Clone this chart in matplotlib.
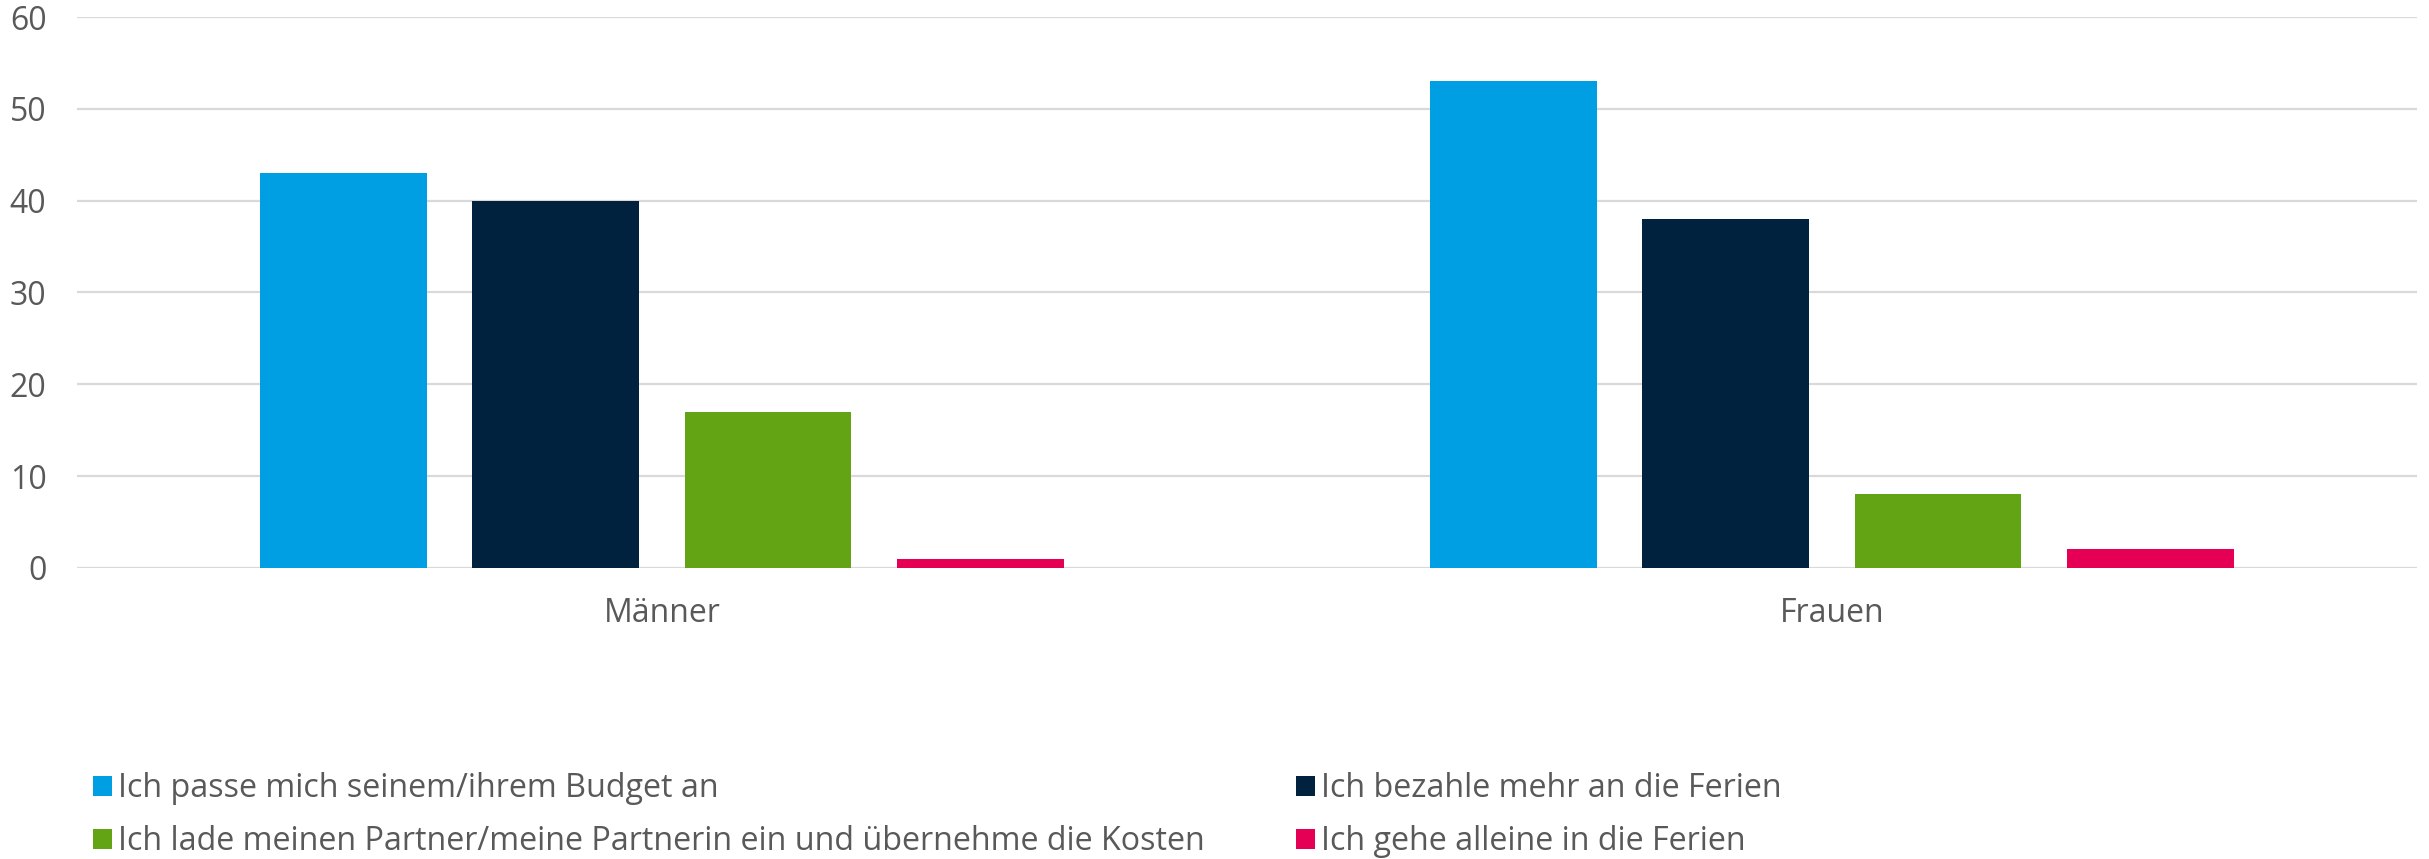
import numpy as np
import matplotlib.pyplot as plt
from matplotlib.patches import Patch

plt.rcParams['font.family'] = ['Open Sans', 'DejaVu Sans']

groups = ['Männer', 'Frauen']
series = [
    'Ich passe mich seinem/ihrem Budget an',
    'Ich bezahle mehr an die Ferien',
    'Ich lade meinen Partner/meine Partnerin ein und übernehme die Kosten',
    'Ich gehe alleine in die Ferien',
]
values = [
    [43, 53],
    [40, 38],
    [17, 8],
    [1, 2],
]
colors = ['#009FE3', '#00223F', '#62A413', '#E50055']
yticks = [0, 10, 20, 30, 40, 50, 60]

text_col = '#595959'
grid_col = '#D9D9D9'

fig = plt.figure(figsize=(24.29, 8.59), dpi=100)
ax = fig.add_axes([0.0317, 0.339, 0.9633, 0.641])

x = np.arange(len(groups))
step = 0.1815
width = 0.1425
for i, (vals, c) in enumerate(zip(values, colors)):
    ax.bar(x + (i - 1.5) * step, vals, width=width, color=c, zorder=3)

ax.set_xlim(-0.5, 1.5)
ax.set_ylim(0, 60)
ax.set_yticks(yticks)
ax.set_xticks(x)
ax.set_xticklabels(groups)
ax.yaxis.grid(True, color=grid_col, linewidth=1.6, zorder=0)
ax.set_axisbelow(True)
for s in ax.spines.values():
    s.set_visible(False)
ax.tick_params(axis='y', length=0, pad=22, labelsize=23, labelcolor=text_col)
ax.tick_params(axis='x', length=0, pad=21, labelsize=23, labelcolor=text_col)

handles = [Patch(facecolor=c) for c in colors]
leg_kw = dict(frameon=False, fontsize=23.2, labelcolor=text_col, loc='center left',
              handlelength=0.58, handleheight=0.58, handletextpad=0.2,
              labelspacing=0.62, borderpad=0, borderaxespad=0)
leg1 = fig.legend([handles[0], handles[2]], [series[0], series[2]],
                  bbox_to_anchor=(0.0383, 0.0512), **leg_kw)
leg2 = fig.legend([handles[1], handles[3]], [series[1], series[3]],
                  bbox_to_anchor=(0.5335, 0.0512), **leg_kw)

fig.savefig('out.png', dpi=100)
